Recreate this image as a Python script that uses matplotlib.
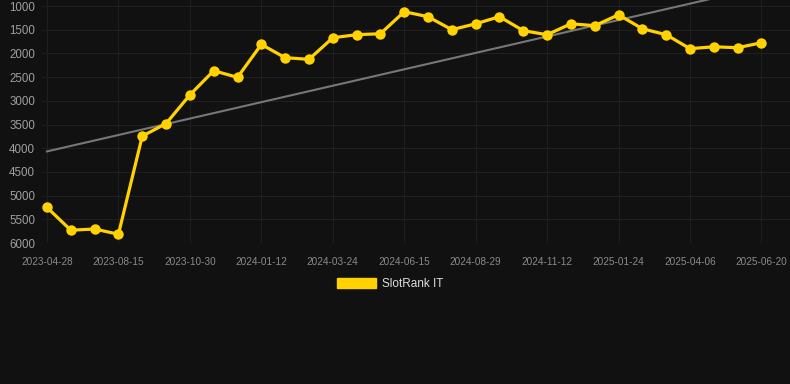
import matplotlib.pyplot as plt
import numpy as np
from matplotlib.patches import Patch

# SlotRank IT position over time (lower is better, axis inverted)
DATES = [
    "2023-04-28", "", "", "2023-08-15", "", "", "2023-10-30", "", "",
    "2024-01-12", "", "", "2024-03-24", "", "", "2024-06-15", "", "",
    "2024-08-29", "", "", "2024-11-12", "", "", "2025-01-24", "", "",
    "2025-04-06", "", "", "2025-06-20",
]
RANK = [
    5250, 5730, 5705, 5815, 3745, 3480, 2875, 2365, 2505, 1810, 2090,
    2125, 1670, 1605, 1585, 1120, 1225, 1500, 1375, 1225, 1520, 1605,
    1375, 1415, 1185, 1480, 1605, 1900, 1860, 1880, 1775,
]
SERIES_NAME = "SlotRank IT"

BG = "#111111"
YELLOW = "#FFD200"


def main():
    plt.rcParams["font.family"] = ["Liberation Sans", "DejaVu Sans"]
    fig = plt.figure(figsize=(7.9, 3.84), dpi=100, facecolor=BG)
    ax = fig.add_axes([42 / 790, 1 - 243 / 384, 1 - 42 / 790, 243 / 384])
    ax.set_facecolor(BG)

    x = np.arange(len(RANK))
    y = np.array(RANK, dtype=float)

    # linear trend
    k, b = np.polyfit(x, y, 1)
    ax.plot(x, k * x + b, color="#777777", linewidth=1.5, zorder=2)

    ax.plot(x, y, color=YELLOW, linewidth=2.3, marker="o", markersize=7.5,
            markeredgewidth=0, zorder=3)

    ax.set_xlim(-0.21, 31.2)
    ax.set_ylim(6000, 873)
    ax.set_yticks(np.arange(1000, 6001, 500))
    tick_idx = [i for i, d in enumerate(DATES) if d]
    ax.set_xticks(tick_idx)
    ax.set_xticklabels([DATES[i] for i in tick_idx])

    ax.grid(True, color="#1f1f1f", linewidth=0.8)
    for s in ax.spines.values():
        s.set_visible(False)
    ax.tick_params(axis="both", length=0)
    ax.tick_params(axis="y", labelsize=8.3, colors="#a0a0a0", pad=5)
    ax.tick_params(axis="x", labelsize=7.2, colors="#8a8a8a", pad=10)

    handle = Patch(facecolor=YELLOW, edgecolor=YELLOW)
    fig.legend([handle], [SERIES_NAME], loc="center",
               bbox_to_anchor=(0.5 - 5 / 790, 1 - 284 / 384),
               frameon=False, fontsize=8.5, labelcolor="#dddddd",
               handlelength=3.3, handleheight=0.85, handletextpad=0.55)

    fig.savefig("out.png", dpi=100, facecolor=BG)


if __name__ == "__main__":
    main()
